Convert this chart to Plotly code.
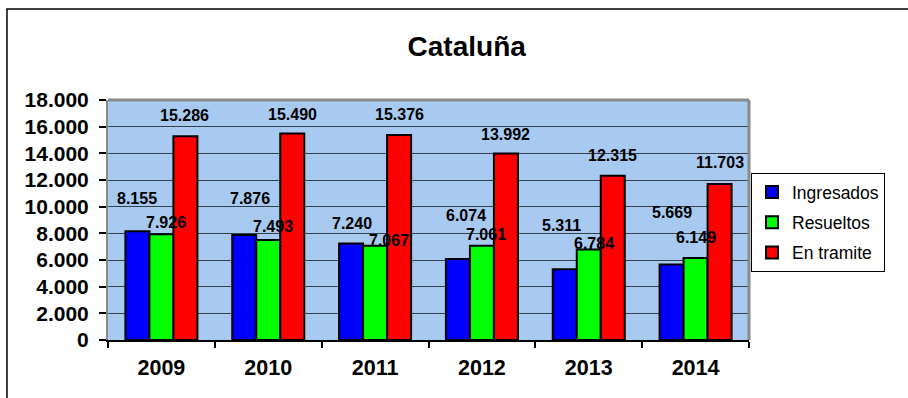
import plotly.graph_objects as go

# Chart data
years = ["2009", "2010", "2011", "2012", "2013", "2014"]
ingresados = [8155, 7876, 7240, 6074, 5311, 5669]
resueltos = [7926, 7493, 7067, 7061, 6784, 6149]
en_tramite = [15286, 15490, 15376, 13992, 12315, 11703]

series_names = ["Ingresados", "Resueltos", "En tramite"]
series_values = [ingresados, resueltos, en_tramite]
series_colors = ["#0000ff", "#00ff00", "#ff0000"]

# Hand-placed label offsets (pixels) relative to each bar's top centre
label_dx = [
    [0, 6, 1, 8, -3, 0],
    [5, 5, 14, 4, 5, 0],
    [-1, 0, 0, 0, 0, 0],
]
label_dy = [
    [33, 36, 20, 44, 44, 52],
    [12, 14, 5, 11, 6, 21],
    [21, 19, 20, 19, 20, 21],
]
bar_offsets = [-24, 0, 24]

FONT = "Liberation Sans, Arial, sans-serif"


def fmt(v):
    return f"{v:,}".replace(",", ".")


fig = go.Figure()
for i, (name, vals, col) in enumerate(zip(series_names, series_values, series_colors)):
    fig.add_trace(go.Bar(
        x=years, y=vals, name=name, legendgroup=name,
        marker=dict(color=col, line=dict(color="#000000", width=2)),
    ))

annotations = []
for i, vals in enumerate(series_values):
    for j, v in enumerate(vals):
        annotations.append(dict(
            x=j, y=v, xref="x", yref="y", text=fmt(v), showarrow=False,
            xshift=bar_offsets[i] + label_dx[i][j], yshift=label_dy[i][j],
            font=dict(family=FONT, size=16, color="#000000", weight="bold"),
            xanchor="center", yanchor="middle",
        ))

shapes = [
    # outer chart frame
    dict(type="rect", xref="paper", yref="paper", x0=-0.1576, x1=1.6, y0=-0.6, y1=1.379,
         line=dict(color="#000000", width=1.5), fillcolor="rgba(0,0,0,0)", layer="below"),
    # plot-area frame, top and right edges
    dict(type="line", xref="paper", yref="paper", x0=0, x1=1, y0=1, y1=1,
         line=dict(color="#8a8a8a", width=3)),
    dict(type="line", xref="paper", yref="paper", x0=1, x1=1, y0=0, y1=1,
         line=dict(color="#8a8a8a", width=3)),
]

fig.update_layout(
    width=908, height=398,
    margin=dict(l=108, r=159, t=100, b=58),
    paper_bgcolor="#ffffff",
    plot_bgcolor="#a8caf0",
    separators=",.",
    barmode="group",
    bargap=0.326,
    bargroupgap=0,
    font=dict(family=FONT, color="#000000"),
    title=dict(text="<b>Cataluña</b>", x=0.514, xanchor="center", y=1 - 46 / 398,
               yanchor="middle", yref="container",
               font=dict(family=FONT, size=28, color="#000000")),
    legend=dict(
        x=(751 - 108) / 641, y=(340 - 173) / 240, xanchor="left", yanchor="top",
        bgcolor="#ffffff", bordercolor="#000000", borderwidth=1,
        font=dict(family=FONT, size=17.5, color="#000000"),
        tracegroupgap=4.5, traceorder="grouped",
        entrywidth=125, entrywidthmode="pixels",
    ),
    annotations=annotations,
    shapes=shapes,
    xaxis=dict(
        type="category", range=[-0.5, 5.5], tickson="boundaries",
        ticks="outside", ticklen=6, tickcolor="#000000", tickwidth=1.5,
        showline=True, linecolor="#000000", linewidth=1.5,
        showgrid=False, tickangle=0,
        tickfont=dict(family=FONT, size=21.5, color="#000000", weight="bold"),
        ticklabelstandoff=7,
    ),
    yaxis=dict(
        range=[0, 18000], dtick=2000, tickformat=",d",
        ticks="outside", ticklen=7, tickcolor="#000000", tickwidth=1.5,
        showline=True, linecolor="#8a8a8a", linewidth=2,
        showgrid=True, gridcolor="#34404c", gridwidth=1.4,
        zeroline=False,
        tickfont=dict(family=FONT, size=21, color="#000000", weight="bold"),
        ticklabelstandoff=6,
    ),
)

fig.write_html("out.html")
